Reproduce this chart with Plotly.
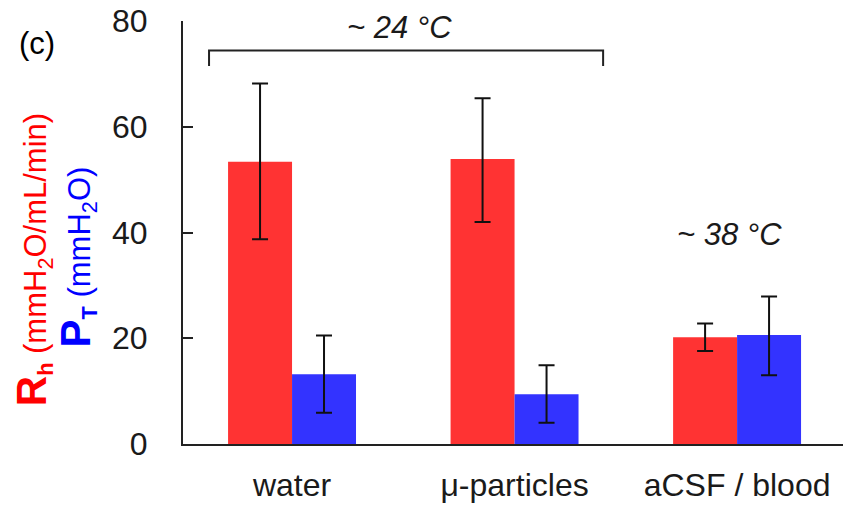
import plotly.graph_objects as go

categories = ["water", "μ-particles", "aCSF / blood"]
rh_values = [53.4, 53.9, 20.2]
rh_err_plus = [14.8, 11.5, 2.6]
rh_err_minus = [14.7, 11.9, 2.6]
pt_values = [13.2, 9.4, 20.6]
pt_err_plus = [7.3, 5.5, 7.3]
pt_err_minus = [7.3, 5.4, 7.6]
y_ticks = [0, 20, 40, 60, 80]

FONT = "Arial, Liberation Sans, sans-serif"
TXT = "#1a1a1a"
RED_BAR = "#ff3333"
BLUE_BAR = "#3333ff"

x_idx = list(range(len(categories)))

fig = go.Figure()
fig.add_trace(go.Bar(
    x=x_idx, y=rh_values, marker=dict(color=RED_BAR, line=dict(width=0)),
    error_y=dict(type="data", symmetric=False, array=rh_err_plus, arrayminus=rh_err_minus,
                 color="#111111", thickness=2, width=8),
    showlegend=False,
))
fig.add_trace(go.Bar(
    x=x_idx, y=pt_values, marker=dict(color=BLUE_BAR, line=dict(width=0)),
    error_y=dict(type="data", symmetric=False, array=pt_err_plus, arrayminus=pt_err_minus,
                 color="#111111", thickness=2, width=8),
    showlegend=False,
))

fig.update_layout(
    width=843, height=505,
    margin=dict(l=183, r=0, t=21, b=61),
    paper_bgcolor="white", plot_bgcolor="white",
    barmode="group", bargap=0.425, bargroupgap=0,
    font=dict(family=FONT, size=32, color=TXT),
    xaxis=dict(
        range=[-0.49, 2.476], tickmode="array", tickvals=x_idx, ticktext=categories,
        showline=True, linecolor="#222222", linewidth=2, ticks="",
        showgrid=False, zeroline=False, tickfont=dict(size=32, color=TXT),
        ticklabelstandoff=12,
    ),
    yaxis=dict(
        range=[0, 80], tickvals=y_ticks, showline=True, linecolor="#222222", linewidth=2,
        ticks="inside", ticklen=10, tickwidth=2, tickcolor="#222222",
        showgrid=False, zeroline=False, tickfont=dict(size=32, color=TXT),
        ticklabelstandoff=27,
    ),
    shapes=[
        dict(type="path", xref="x", yref="y",
             path="M -0.373 71.5 L -0.373 74.4 L 1.398 74.4 L 1.398 71.5",
             line=dict(color="#222222", width=2)),
    ],
    annotations=[
        dict(x=0.485, y=78.7, xref="x", yref="y", text="<i>~ 24 °C</i>", showarrow=False,
             font=dict(size=31, color=TXT), xanchor="center", yanchor="middle"),
        dict(x=1.968, y=39.7, xref="x", yref="y", text="<i>~ 38 °C</i>", showarrow=False,
             font=dict(size=31, color=TXT), xanchor="center", yanchor="middle"),
        dict(x=-0.221, y=0.946, xref="paper", yref="paper", text="(c)", showarrow=False,
             font=dict(size=31, color="#000000"), xanchor="center", yanchor="middle"),
        dict(x=-0.227, y=0.435, xref="paper", yref="paper", textangle=-90,
             text="<b><span style='font-size:42px'>R</span><sub>h</sub></b> (mmH<sub>2</sub>O/mL/min)",
             showarrow=False, font=dict(size=31, color="#ff0000"),
             xanchor="center", yanchor="middle"),
        dict(x=-0.16, y=0.442, xref="paper", yref="paper", textangle=-90,
             text="<b><span style='font-size:42px'>P</span><sub>T</sub></b> (mmH<sub>2</sub>O)",
             showarrow=False, font=dict(size=31, color="#0000ff"),
             xanchor="center", yanchor="middle"),
    ],
)

fig.write_html("out.html")
